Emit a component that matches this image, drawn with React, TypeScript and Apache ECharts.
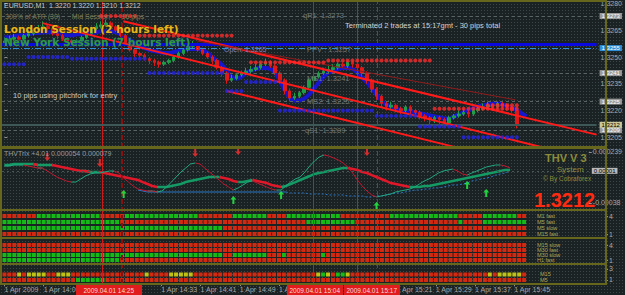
import React, { useEffect, useRef } from "react";
import * as echarts from "echarts";

const SLOTS = 123;

// [open, close, low, high] per M1 bar from 14:01
const candles: number[][] = [
  [1.3258, 1.3259, 1.3257, 1.3261], [1.3259, 1.326, 1.3258, 1.3262], [1.326, 1.3261, 1.3259, 1.3263], [1.3261, 1.326, 1.3258, 1.3262],
  [1.326, 1.3262, 1.3259, 1.3263], [1.3262, 1.3263, 1.3261, 1.3265], [1.3263, 1.3265, 1.3262, 1.3266], [1.3265, 1.3266, 1.3264, 1.3268],
  [1.3266, 1.3267, 1.3265, 1.327], [1.3267, 1.3266, 1.3264, 1.3268], [1.3266, 1.3263, 1.3262, 1.3267], [1.3263, 1.3262, 1.326, 1.3264],
  [1.3262, 1.326, 1.3259, 1.3263], [1.326, 1.3259, 1.3257, 1.3261], [1.3259, 1.3258, 1.3256, 1.326], [1.3258, 1.3259, 1.3257, 1.326],
  [1.3259, 1.3261, 1.3258, 1.3262], [1.3261, 1.3263, 1.326, 1.3264], [1.3263, 1.3266, 1.3262, 1.3267], [1.3266, 1.3267, 1.3265, 1.3269],
  [1.3267, 1.3268, 1.3266, 1.327], [1.3268, 1.3269, 1.3267, 1.3271], [1.3269, 1.3267, 1.3266, 1.327], [1.3267, 1.3265, 1.3264, 1.3268],
  [1.3265, 1.3262, 1.3261, 1.3266], [1.3262, 1.3258, 1.3257, 1.3263], [1.3258, 1.3254, 1.3253, 1.3259], [1.3254, 1.3252, 1.325, 1.3255],
  [1.3252, 1.3251, 1.3249, 1.3253], [1.3251, 1.3249, 1.3248, 1.3252], [1.3249, 1.3248, 1.3246, 1.325], [1.3248, 1.3247, 1.3245, 1.3249],
  [1.3247, 1.3246, 1.3244, 1.3248], [1.3246, 1.3247, 1.3245, 1.3248], [1.3247, 1.3248, 1.3246, 1.3249], [1.3248, 1.325, 1.3247, 1.3251],
  [1.325, 1.3252, 1.3249, 1.3253], [1.3252, 1.3254, 1.3251, 1.3255], [1.3254, 1.3256, 1.3253, 1.3257], [1.3256, 1.3257, 1.3255, 1.3259],
  [1.3257, 1.3254, 1.3253, 1.3258], [1.3254, 1.3252, 1.3251, 1.3255], [1.3252, 1.325, 1.3249, 1.3253], [1.325, 1.3248, 1.3246, 1.3251],
  [1.3248, 1.3244, 1.3243, 1.3249], [1.3244, 1.3241, 1.3239, 1.3245], [1.3241, 1.3237, 1.3235, 1.3242], [1.3237, 1.3238, 1.3236, 1.324],
  [1.3238, 1.324, 1.3237, 1.3241], [1.324, 1.3241, 1.3239, 1.3242], [1.3241, 1.3242, 1.324, 1.3244], [1.3242, 1.3243, 1.3241, 1.3245],
  [1.3243, 1.3244, 1.3242, 1.3246], [1.3244, 1.3246, 1.3243, 1.3247], [1.3246, 1.3247, 1.3245, 1.3249], [1.3247, 1.3245, 1.3244, 1.3248],
  [1.3245, 1.3241, 1.324, 1.3246], [1.3241, 1.3237, 1.3235, 1.3242], [1.3237, 1.3231, 1.3229, 1.3238], [1.3231, 1.3227, 1.3225, 1.3232],
  [1.3227, 1.3228, 1.3226, 1.323], [1.3228, 1.323, 1.3227, 1.3231], [1.323, 1.3233, 1.3229, 1.3234], [1.3233, 1.3237, 1.3232, 1.3238],
  [1.3237, 1.3239, 1.3236, 1.324], [1.3239, 1.3241, 1.3238, 1.3242], [1.3241, 1.3242, 1.324, 1.3244], [1.3242, 1.3243, 1.3241, 1.3245],
  [1.3243, 1.3244, 1.3242, 1.3246], [1.3244, 1.3246, 1.3243, 1.3247], [1.3246, 1.3245, 1.3244, 1.3247], [1.3245, 1.3247, 1.3244, 1.3248],
  [1.3247, 1.3246, 1.3244, 1.3248], [1.3246, 1.3244, 1.3243, 1.3247], [1.3244, 1.3241, 1.3239, 1.3245], [1.3241, 1.3237, 1.3235, 1.3242],
  [1.3237, 1.3232, 1.323, 1.3238], [1.3232, 1.3228, 1.3226, 1.3233], [1.3228, 1.3224, 1.3222, 1.3229], [1.3224, 1.3222, 1.322, 1.3225],
  [1.3222, 1.3223, 1.3221, 1.3225], [1.3223, 1.3221, 1.3219, 1.3224], [1.3221, 1.322, 1.3218, 1.3222], [1.322, 1.3222, 1.3219, 1.3223],
  [1.3222, 1.322, 1.3218, 1.3223], [1.322, 1.3219, 1.3217, 1.3221], [1.3219, 1.3217, 1.3215, 1.322], [1.3217, 1.3216, 1.3214, 1.3218],
  [1.3216, 1.3215, 1.3212, 1.3217], [1.3215, 1.3216, 1.3213, 1.3217], [1.3216, 1.3215, 1.3212, 1.3217], [1.3215, 1.3213, 1.3211, 1.3216],
  [1.3213, 1.3216, 1.3212, 1.3217], [1.3216, 1.3217, 1.3215, 1.3218], [1.3217, 1.3218, 1.3216, 1.322], [1.3218, 1.3219, 1.3217, 1.3221],
  [1.3219, 1.3218, 1.3216, 1.322], [1.3218, 1.322, 1.3217, 1.3221], [1.322, 1.3221, 1.3219, 1.3223], [1.3221, 1.3222, 1.322, 1.3224],
  [1.3222, 1.3223, 1.3221, 1.3225], [1.3223, 1.3222, 1.322, 1.3224], [1.3222, 1.3224, 1.3221, 1.3225], [1.3224, 1.3223, 1.3221, 1.3225],
  [1.3223, 1.3222, 1.322, 1.3224], [1.3222, 1.322, 1.3219, 1.3223], [1.322, 1.3212, 1.321, 1.322],
];

const blueBand: number[] = [
  1.32611, 1.32611, 1.32617, 1.32622, 1.32622, 1.32628, 1.32634, 1.32634, 1.32639, 1.32639,
  1.32639, 1.32634, 1.32628, 1.32622, 1.32622, 1.32628, 1.32628, 1.32634, 1.32634, 1.32639,
  1.32645, 1.32645, 1.32645, 1.32639, 1.32628, 1.32611, 1.32595, 1.32578, 1.32561, 1.3255,
  1.32539, 1.32534, 1.32528, 1.32523, 1.32523, 1.32528, 1.32534, 1.32539, 1.32545, 1.32545,
  1.32545, 1.32539, 1.32523, 1.325, 1.32478, 1.32456, 1.32423, 1.32389, 1.32378, 1.32389,
  1.32412, 1.32423, 1.32434, 1.32439, 1.32439, 1.32434, 1.32412, 1.32367, 1.32312, 1.32273,
  1.32256, 1.32256, 1.32267, 1.32289, 1.32323, 1.32356, 1.32389, 1.32412, 1.32423, 1.32434,
  1.32439, 1.32439, 1.32434, 1.32412, 1.32384, 1.32356, 1.32323, 1.32289, 1.32256, 1.32234,
  1.32223, 1.32212, 1.32201, 1.32201, 1.32195, 1.3219, 1.32184, 1.32178, 1.32173, 1.32167,
  1.32162, 1.32156, 1.32156, 1.32167, 1.32178, 1.3219, 1.32201, 1.32212, 1.32223, 1.32228,
  1.32234, 1.3224, 1.3224, 1.32234, 1.32223, 1.32212, 1.32201, 1.32184, 1.32167,
];

// [firstBar, lastBar, price]
const redDotSegs: number[][] = [[20, 27, 1.3273], [28, 47, 1.3262], [51, 66, 1.3247], [67, 88, 1.3248], [89, 106, 1.3221], [100, 106, 1.3223]];
const blueDotSegs: number[][] = [[0, 4, 1.3246], [5, 13, 1.325], [14, 29, 1.3249], [30, 45, 1.3241], [46, 49, 1.3231], [50, 56, 1.3236], [57, 76, 1.322], [77, 85, 1.3217], [86, 94, 1.3211], [95, 106, 1.3205]];

// pitchfork: [bar, price] end points
const pfMedian = [[7.9, 1.3269], [113.3, 1.3198]];
const pfUpper = [[24.6, 1.327], [122.5, 1.32065]];
const pfLower = [[46, 1.3231], [93.3, 1.31995]];
const trendThin = [[39.9, 1.3259], [105.7, 1.3226]];

const priceTicks = [1.328, 1.3265, 1.325, 1.3235, 1.322, 1.3205];
const greyLevels = [1.3273, 1.3241, 1.3225, 1.3209];
const ppvLevel = 1.3257;
const blueLevel = 1.3255;
const bidPrice = 1.3212;

// THV indicator, in millionths
const thvFast: number[] = [
  69, 69, 81, 81, 81, 69, 56, 44, 44, 8,
  -28, -65, -89, -113, -126, -126, -89, -53, -28, -16,
  -16, -4, 8, 8, -16, -77, -126, -174, -211, -223,
  -235, -235, -247, -235, -186, -126, -65, -4, 44, 93,
  105, 93, 44, -4, -53, -101, -150, -186, -223, -198,
  -162, -126, -113, -138, -162, -186, -211, -223, -223, -174,
  -126, -89, -65, -4, 69, 129, 178, 202, 190, 166,
  141, 105, 56, -16, -101, -174, -235, -283, -308, -295,
  -283, -271, -247, -235, -223, -211, -186, -150, -113, -89,
  -53, -16, 8, 20, 32, 8, -28, -41, -16, 8,
  32, 56, 69, 81, 81, 69, 44,
];
const thvSlow: number[] = [
  81, 81, 93, 93, 93, 93, 93, 81, 81, 81,
  81, 69, 56, 44, 32, 20, 8, 8, -4, -4,
  -4, -16, -28, -41, -53, -65, -77, -89, -101, -126,
  -150, -174, -186, -186, -186, -174, -162, -150, -126, -113,
  -101, -89, -77, -65, -65, -65, -77, -89, -113, -126,
  -126, -113, -101, -113, -126, -138, -162, -174, -186, -174,
  -150, -126, -101, -77, -53, -28, -16, -4, 8, 20,
  32, 44, 44, 32, 20, -4, -16, -41, -65, -89,
  -113, -138, -150, -162, -174, -186, -186, -186, -174, -174,
  -162, -150, -138, -126, -113, -101, -89, -77, -65, -53,
  -41, -28, -16, -4, 8, 20, 20,
];
const thvSignal: (number | null)[] = [
  null, null, null, null, null, null, null, null, null, null,
  null, null, null, null, null, null, null, null, null, null,
  null, null, null, null, null, null, null, null, -223, -235,
  -247, -247, -247, -247, -247, -247, -247, -247, -247, -247,
  -247, -247, -247, -247, -247, -247, -247, -247, -247, -247,
  -247, -247, -247, -247, -247, -247, -247, -247, -247, -247,
  -259, -259, -259, -259, -271, -271, -271, -271, -283, -283,
  -283, -283, -295, -295, -295, -295, -308, -308, -295, -295,
  -283, -271, -259, -259, -247, -235, -223, -223, -211, -211,
  -198, -198, -186, -174, -162, -162, -150, -138, -113, -101,
  -89, -77, -65, -41, -28, -16, 8,
];
const thvZero = 10;
const thvTicks = [239, -380];
const downArrows = [[9, 178], [20, 105], [40, 226], [49, 251], [76, 239]];
const upArrows = [[25, -271], [48, -344], [58, -283], [78, -417], [97, -162], [101, -259]];

// trend-bar rows, run-length: [colour, count]
const p1Rows: [string, number][][] = [
  [["R", 7], ["G", 13], ["R", 5], ["G", 15], ["R", 7], ["G", 7], ["R", 4], ["G", 11], ["R", 10], ["G", 14], ["R", 5], ["G", 7], ["R", 2]],
  [["G", 24], ["R", 38], ["G", 10], ["R", 21], ["G", 1], ["R", 4], ["G", 9]],
  [["G", 45], ["R", 62]],
  [["R", 107]],
];
const p2Rows: [string, number][][] = [
  [["R", 107]],
  [["R", 107]],
  [["G", 45], ["R", 2], ["G", 7], ["R", 3], ["G", 1], ["R", 7], ["G", 1], ["R", 41]],
  [["G", 24], ["R", 83]],
];
const p3Rows: [string, number][][] = [
  [["R", 3], ["Y", 1], ["R", 1], ["Y", 4], ["R", 2], ["Y", 3], ["R", 15], ["Y", 1], ["R", 4], ["Y", 5], ["R", 25], ["Y", 1], ["G", 1], ["Y", 1], ["R", 1], ["G", 2], ["Y", 1], ["R", 28], ["Y", 1], ["R", 1], ["Y", 5], ["R", 1]],
  [["R", 15], ["G", 6], ["R", 86]],
];
const p1Names = ["M1 fast", "M5 fast", "M5 slow", "M15 fast"];
const p2Names = ["M15 slow", "M30 fast", "M30 slow", "H1 fast"];
const p3Names = ["M15", "M5"];

const timeTickBars = [0, 8, 32, 40, 48, 56, 80, 88, 96, 104];
const timeTickLabels = ["1 Apr 2009", "1 Apr 14:09", "1 Apr 14:33", "1 Apr 14:41", "1 Apr 14:49", "1 Apr 14:57", "1 Apr 15:21", "1 Apr 15:29", "1 Apr 15:37", "1 Apr 15:45"];
const vLines = [20, 24, 63, 72, 76];
const vLineTags = ["2009.04.01 14:25", "2009.04.01 15:04", "2009.04.01 15:17"];

const FONT = "Liberation Sans, Arial, sans-serif";
const OLIVE = "#66661c";
const COLORS: Record<string, string> = { R: "#ff2a0a", G: "#14e014", Y: "#e8e810" };

function expandSegs(segs: number[][]) {
  const out: number[][] = [];
  segs.forEach(([a, b, p]) => { for (let i = a; i <= b; i++) out.push([i, p]); });
  return out;
}
function rowsToPoints(rows: [string, number][][], topValue: number) {
  const byColor: Record<string, number[][]> = { R: [], G: [], Y: [] };
  rows.forEach((row, r) => {
    let i = 0;
    row.forEach(([c, n]) => { for (let k = 0; k < n; k++) { byColor[c].push([i, topValue - r]); i++; } });
  });
  return byColor;
}
function splitUpDown(vals: (number | null)[]) {
  const up: (number | null)[] = vals.map(() => null);
  const dn: (number | null)[] = vals.map(() => null);
  for (let i = 0; i < vals.length - 1; i++) {
    const a = vals[i], b = vals[i + 1];
    if (a == null || b == null) continue;
    const t = b >= a ? up : dn;
    t[i] = a; t[i + 1] = b;
  }
  return { up, dn };
}

const cats = Array.from({ length: SLOTS }, (_, i) => String(i));
const GL = 2, GW = 603;

function buildOption() {
  const fast = splitUpDown(thvFast);
  const slow = splitUpDown(thvSlow);
  const sigSolid = thvSignal.map((v, i) => (i <= 59 ? v : null));
  const sigDot = thvSignal.map((v, i) => (i >= 59 ? v : null));
  const p1 = rowsToPoints(p1Rows, 4);
  const p2 = rowsToPoints(p2Rows, 4);
  const p3 = rowsToPoints(p3Rows, 2);

  const lvlLabel = (bg: string, fg: string, fmt?: () => string) => ({
    show: true, position: "end", distance: 3,
    formatter: fmt || ((p: any) => Number(p.value).toFixed(4)),
    backgroundColor: bg, color: fg, fontSize: 6, lineHeight: 6, fontFamily: FONT, padding: [0, 2, 0, 2],
  });

  const grids = [
    { left: GL, top: 2, width: GW, height: 146 },
    { left: GL, top: 149, width: GW, height: 59 },
    { left: GL, top: 212, width: GW, height: 25 },
    { left: GL, top: 240, width: GW, height: 23 },
    { left: GL, top: 266, width: GW, height: 17 },
    { left: GL, top: 2, width: GW, height: 282 },
  ];
  const catAxis = (g: number, extra: any = {}) => ({
    type: "category", gridIndex: g, data: cats, boundaryGap: true, axisLine: { show: false }, axisTick: { show: false },
    axisLabel: { show: false }, splitLine: { show: false }, ...extra,
  });
  const valX = (g: number) => ({ type: "value", gridIndex: g, min: -0.5, max: SLOTS - 0.5, show: false, splitLine: { show: false } });
  const smallLabel = { color: "#a8a8a8", fontSize: 7, fontFamily: FONT, margin: 4 };

  const option: any = {
    animation: false,
    backgroundColor: "transparent",
    grid: grids,
    xAxis: [
      catAxis(0),
      valX(0),
      catAxis(1),
      catAxis(2),
      catAxis(3),
      catAxis(4, {
        position: "bottom",
        axisLabel: {
          show: true, interval: (i: number) => timeTickBars.includes(i), align: "left", margin: 3,
          color: "#a8a8a8", fontSize: 7, fontFamily: FONT,
          formatter: (v: string) => { const k = timeTickBars.indexOf(Number(v)); return k >= 0 ? timeTickLabels[k] : ""; },
        },
        axisTick: { show: true, interval: (i: number) => timeTickBars.includes(i), alignWithLabel: true, length: 3, lineStyle: { color: "#909090" } },
      }),
      valX(5),
    ],
    yAxis: [
      {
        type: "value", gridIndex: 0, min: 1.3199, max: 1.328, position: "right", splitLine: { show: false }, axisLine: { show: false },
        axisTick: { show: true, customValues: priceTicks, length: 3, lineStyle: { color: "#909090" } },
        axisLabel: { ...smallLabel, customValues: priceTicks, formatter: (v: number) => v.toFixed(4) },
      },
      {
        type: "value", gridIndex: 1, min: -441, max: 275, position: "right", splitLine: { show: false }, axisLine: { show: false },
        axisTick: { show: true, customValues: thvTicks, length: 3, lineStyle: { color: "#909090" } },
        axisLabel: { ...smallLabel, customValues: thvTicks, formatter: (v: number) => String(v / 1e6) },
      },
      {
        type: "value", gridIndex: 2, min: 0.5, max: 4.667, position: "right", splitLine: { show: false }, axisLine: { show: false },
        axisTick: { show: true, customValues: [4, 1], length: 3, lineStyle: { color: "#909090" } },
        axisLabel: { ...smallLabel, customValues: [4, 1] },
      },
      {
        type: "value", gridIndex: 3, min: 0.4, max: 5, position: "right", splitLine: { show: false }, axisLine: { show: false },
        axisTick: { show: true, customValues: [4, 1], length: 3, lineStyle: { color: "#909090" } },
        axisLabel: { ...smallLabel, customValues: [4, 1] },
      },
      {
        type: "value", gridIndex: 4, min: 0.4545, max: 3.545, position: "right", splitLine: { show: false }, axisLine: { show: false },
        axisTick: { show: true, customValues: [3, 1], length: 3, lineStyle: { color: "#909090" } },
        axisLabel: { ...smallLabel, customValues: [3, 1] },
      },
      { type: "value", gridIndex: 5, min: 0, max: 1, show: false, splitLine: { show: false } },
    ],
    series: [] as any[],
    graphic: [] as any[],
  };

  const S = option.series;
  // vertical event lines across all panes
  S.push({
    type: "line", xAxisIndex: 6, yAxisIndex: 5, data: [[-5, 0.5]], showSymbol: false, silent: true, z: 1,
    markLine: {
      symbol: ["none", "none"], silent: true, label: { show: false }, precision: 3,
      data: vLines.map((b, k) => ({
        xAxis: b,
        lineStyle: { color: k === 1 ? "#8a1010" : "#d01818", width: k === 1 ? 2 : 1, type: k === 1 || k === 4 ? [5, 3] : "solid" },
      })),
    },
  });
  // price level lines (on a plain line series) + blue band
  S.push({
    type: "line", xAxisIndex: 0, yAxisIndex: 0, data: blueBand, showSymbol: false, smooth: 0.3, z: 3, lineStyle: { color: "#1616d0", width: 4 },
    markLine: {
      symbol: ["none", "none"], silent: true, precision: 5,
      data: [
        ...greyLevels.map((v) => ({ yAxis: v, lineStyle: { color: "#5a6464", type: [3, 3], width: 1 }, label: lvlLabel("#9a9a9a", "#ffffff") })),
        { yAxis: ppvLevel, lineStyle: { color: "#0a0ae0", type: "solid", width: 3 }, label: { show: false } },
        { yAxis: blueLevel, lineStyle: { color: "#2f8fd8", type: [6, 2, 1, 2], width: 1 }, label: lvlLabel("#2f8fd8", "#ffffff") },
        { yAxis: bidPrice, lineStyle: { color: "#3e5858", type: "solid", width: 2 }, label: lvlLabel("#c8c89a", "#000000") },
      ],
    },
  });
  S.push({
    type: "candlestick", xAxisIndex: 0, yAxisIndex: 0, data: candles, barWidth: 3, z: 4,
    itemStyle: { color: "#1e9e48", color0: "#e01818", borderColor: "#1e9e48", borderColor0: "#e01818", borderWidth: 1 },
  });
  S.push({ type: "scatter", xAxisIndex: 1, yAxisIndex: 0, data: expandSegs(redDotSegs), symbolSize: 4, z: 6, itemStyle: { color: "#ff2a2a" } });
  S.push({ type: "scatter", xAxisIndex: 1, yAxisIndex: 0, data: expandSegs(blueDotSegs), symbolSize: 4, z: 6, itemStyle: { color: "#2424e8" } });
  [pfMedian, pfUpper, pfLower].forEach((d) =>
    S.push({ type: "line", xAxisIndex: 1, yAxisIndex: 0, data: d, showSymbol: false, z: 5, lineStyle: { color: "#ff1a1a", width: 2 } }));
  S.push({ type: "line", xAxisIndex: 1, yAxisIndex: 0, data: trendThin, showSymbol: false, z: 5, lineStyle: { color: "#8e1c1c", width: 1 } });

  // THV pane
  S.push({
    type: "line", xAxisIndex: 2, yAxisIndex: 1, data: sigSolid, showSymbol: false, z: 3, lineStyle: { color: "#2a78c8", width: 1 },
    markLine: {
      symbol: ["none", "none"], silent: true, precision: 3,
      data: [{ yAxis: thvZero, lineStyle: { color: "#4a5656", type: [2, 3], width: 1 }, label: lvlLabel("#b8b8b8", "#000000", () => String(thvZero / 1e6)) }],
    },
  });
  S.push({ type: "line", xAxisIndex: 2, yAxisIndex: 1, data: sigDot, showSymbol: false, z: 3, lineStyle: { color: "#2a78c8", width: 1, type: [2, 2] } });
  S.push({ type: "line", xAxisIndex: 2, yAxisIndex: 1, data: slow.up, showSymbol: false, z: 4, lineStyle: { color: "#149a64", width: 2.5 } });
  S.push({ type: "line", xAxisIndex: 2, yAxisIndex: 1, data: slow.dn, showSymbol: false, z: 4, lineStyle: { color: "#e0182a", width: 2.5 } });
  S.push({ type: "line", xAxisIndex: 2, yAxisIndex: 1, data: fast.up, showSymbol: false, z: 5, lineStyle: { color: "#22a880", width: 1 } });
  S.push({ type: "line", xAxisIndex: 2, yAxisIndex: 1, data: fast.dn, showSymbol: false, z: 5, lineStyle: { color: "#c01830", width: 1 } });
  S.push({ type: "scatter", xAxisIndex: 2, yAxisIndex: 1, data: downArrows, z: 6, symbol: "path://M2,0L4,0L4,4.5L6,4.5L3,8L0,4.5L2,4.5Z", symbolSize: [6, 8], itemStyle: { color: "#ff3030" } });
  S.push({ type: "scatter", xAxisIndex: 2, yAxisIndex: 1, data: upArrows, z: 6, symbol: "path://M3,0L6,3.5L4,3.5L4,8L2,8L2,3.5L0,3.5Z", symbolSize: [6, 8], itemStyle: { color: "#22ff44" } });

  // trend-bar panes
  ([[p1, 3, 2], [p2, 4, 3], [p3, 5, 4]] as any[]).forEach(([pts, xi, yi]) => {
    ["R", "G", "Y"].forEach((c) => {
      if (!pts[c].length) return;
      S.push({ type: "scatter", xAxisIndex: xi, yAxisIndex: yi, data: pts[c], symbol: "rect", symbolSize: [4, 4], itemStyle: { color: COLORS[c] }, z: 3 });
    });
  });

  // frames and texts
  const G = option.graphic;
  const rect = (x: number, y: number, w: number, h: number, fill: string, z = 50) => G.push({ type: "rect", z, silent: true, shape: { x, y, width: w, height: h }, style: { fill } });
  rect(0, 0, 606, 2, OLIVE);
  rect(0, 0, 2, 285, OLIVE);
  rect(605, 0, 2, 285, OLIVE);
  rect(0, 146, 606, 3, OLIVE);
  rect(0, 209, 606, 2, OLIVE);
  rect(0, 237, 606, 2, OLIVE);
  rect(0, 263, 606, 2, OLIVE);
  rect(0, 283, 606, 2, OLIVE);
  const txt = (x: number, y: number, text: string, fill: string, fontSize = 7, extra: any = {}, z = 60) =>
    G.push({ type: "text", z, silent: true, x, y, style: { text, fill, fontSize, fontFamily: FONT, ...extra } });

  txt(4, 2, "EURUSD,M1  1.3220 1.3220 1.3210 1.3212", "#c8c8c8");
  txt(5, 13, "300% of ATR (30)      Mid Session      16 pips", "#7d7d52");
  txt(4, 23, "London Session (2 hours left)", "#e8b61c", 10.5, { fontWeight: "bold", fontFamily: "DejaVu Sans, Verdana, sans-serif", stroke: "#3a2a00", lineWidth: 0.5 });
  txt(4, 36, "New York Session (7 hours left)", "#2e9a3c", 10.5, { fontWeight: "bold", fontFamily: "DejaVu Sans, Verdana, sans-serif", stroke: "#1a2a9a", lineWidth: 0.6 });
  txt(303, 11, "qR1: 1.3273", "#6e7878", 7.5);
  txt(345, 21, "Terminated 2 trades at 15:17gmt - 30 pips total", "#d4d4d4", 7.5);
  txt(224, 46, "Open: 1.3265", "#8080c0", 7);
  txt(307, 45, "PPV : 1.3257", "#6e7878", 7.5);
  txt(307, 74, "MS1: 1.3241", "#6e7878", 7.5);
  txt(307, 97, "MS2: 1.3225", "#6e7878", 7.5);
  txt(305, 126, "qS1: 1.3209", "#6e7878", 7.5);
  txt(13, 91, "10 pips using pitchfork for entry", "#c8c8c8", 7.5);

  txt(4, 150, "THVTrix +4.01 0.000054 0.000079", "#9a9a9a");
  txt(545, 152, "THV V 3", "#8c8c3c", 11, { fontWeight: "bold" });
  txt(557, 165, "System", "#8c8c3c", 8);
  txt(543, 175, "© By Cobraforex", "#8c8c3c", 6.5);
  txt(534, 191, "1.3212", "#ff2a10", 20, { fontWeight: "bold", lineHeight: 17 });

  const nameStyle = { lineHeight: 5 };
  p1Names.forEach((n, k) => txt(537, 213.5 + k * 6, n, "#b0a858", 5.5, nameStyle));
  p2Names.forEach((n, k) => txt(537, 242.5 + k * 5, n, "#b0a858", 5.5, nameStyle));
  p3Names.forEach((n, k) => txt(540, 271 + k * 6, n, "#b0a858", 5.5, nameStyle));

  // event-line tags on the time scale
  [[76, 66, 0], [287, 56, 1], [344, 56, 2]].forEach(([x, w, k]) => {
    rect(x, 285, w, 10, "#e01c1c", 70);
    txt(x + (w - 51) / 2, 286.5, vLineTags[k], "#ffd8d8", 6.5, {}, 71);
  });
  return option;
}

export default function App() {
  const ref = useRef<HTMLDivElement>(null);
  useEffect(() => {
    document.body.style.margin = "0";
    const chart = echarts.init(ref.current!, null, { renderer: "svg" });
    chart.setOption(buildOption());
    return () => chart.dispose();
  }, []);
  return (
    <div
      ref={ref}
      style={{
        position: "absolute", left: 0, top: 0, width: 625, height: 295,
        backgroundColor: "#1a2224",
        backgroundImage: "radial-gradient(circle, #3c4648 0.7px, rgba(0,0,0,0) 1px)",
        backgroundSize: "3px 3px",
      }}
    />
  );
}
